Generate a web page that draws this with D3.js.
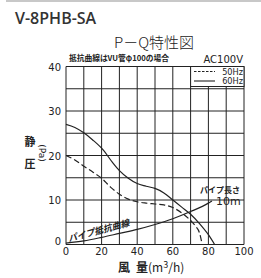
<!DOCTYPE html>
<html><head><meta charset="utf-8">
<script src="https://cdn.jsdelivr.net/npm/d3@7"></script>
<style>body{margin:0;background:#fff}svg{display:block}</style>
</head><body>
<script>
const q60 = [0, 5, 10, 15, 21, 26, 30, 35, 40, 45, 50, 55, 60, 65, 70, 75, 80, 83.5];
const p60 = [27, 26.3, 25.1, 23.5, 21.2, 18.5, 16.6, 14.9, 13.7, 13.1, 12.6, 11.6, 10, 8.4, 6.8, 4.7, 2.2, 0];
const q50 = [0, 5, 10, 15, 20, 25, 30, 35, 40, 45, 50, 55, 60, 65, 70, 73, 75, 76.5];
const p50 = [20, 19.0, 17.6, 16.3, 14.9, 12.9, 11.3, 10.2, 9.6, 9.3, 9.1, 8.9, 8.3, 7.1, 5.4, 4.0, 2.6, 0];
const qPipe = [0, 10, 20, 30, 40, 50, 60, 70, 80, 82];
const pPipe = [0.3, 0.8, 1.6, 2.5, 3.4, 4.5, 5.8, 7.4, 9.3, 9.8];
const xTicks = [0, 20, 40, 60, 80, 100];
const yTicks = [0, 10, 20, 30, 40];
const xGrid = d3.range(0, 101, 10);
const yGrid = d3.range(0, 41, 5);
const legendItems = [{label: "50Hz", dash: "2.5,1.5"}, {label: "60Hz", dash: null}];

const W = 261, H = 278;
const svg = d3.select("body").append("svg").attr("width", W).attr("height", H);
const x = d3.scaleLinear().domain([0, 100]).range([66, 244]);
const y = d3.scaleLinear().domain([0, 40]).range([244.5, 66.5]);
const ink = "#222";

svg.append("line").attr("x1", 6).attr("x2", W).attr("y1", 1).attr("y2", 1)
  .attr("stroke", "#c8c8c8").attr("stroke-width", 2);

svg.append("text").attr("x", 15).attr("y", 24).text("V-8PHB-SA")
  .attr("font-family", "Open Sans").attr("font-weight", 600).attr("font-size", 16).attr("fill", "#333");

svg.append("text").attr("x", 154).attr("y", 48).attr("text-anchor", "middle").text("P－Q特性図")
  .attr("font-family", "Noto Sans CJK JP").attr("font-weight", 300).attr("font-size", 15).attr("fill", ink);

svg.append("text").attr("x", 69).attr("y", 61).text("抵抗曲線はVU管φ100の場合")
  .attr("font-family", "Noto Sans CJK JP").attr("font-weight", 700).attr("font-size", 7.5)
  .attr("textLength", 100).attr("lengthAdjust", "spacingAndGlyphs").attr("fill", ink);
svg.append("text").attr("x", 243).attr("y", 63).attr("text-anchor", "end").text("AC100V")
  .attr("font-family", "DejaVu Sans").attr("font-size", 10).attr("fill", ink);

// grid
const g = svg.append("g").attr("stroke", ink).attr("stroke-width", 1);
g.selectAll(".vx").data(xGrid).join("line")
  .attr("x1", d => x(d)).attr("x2", d => x(d)).attr("y1", y(40)).attr("y2", y(0));
g.selectAll(".hy").data(yGrid).join("line")
  .attr("y1", d => y(d)).attr("y2", d => y(d)).attr("x1", x(0)).attr("x2", x(100));

// legend box
const lb = svg.append("g");
lb.append("rect").attr("x", x(70)).attr("y", y(40)).attr("width", x(100) - x(70)).attr("height", 20)
  .attr("fill", "#fff").attr("stroke", ink).attr("stroke-width", 1);
legendItems.forEach((it, i) => {
  const yy = y(40) + 5 + i * 9.5;
  lb.append("line").attr("x1", 194).attr("x2", 215).attr("y1", yy).attr("y2", yy)
    .attr("stroke", ink).attr("stroke-width", 1.1).attr("stroke-dasharray", it.dash);
  lb.append("text").attr("x", 243).attr("y", yy + 3.2).attr("text-anchor", "end").text(it.label)
    .attr("font-family", "DejaVu Sans").attr("font-size", 8.2).attr("fill", ink);
});

// tick labels
svg.selectAll(".yt").data(yTicks).join("text")
  .attr("x", 61).attr("y", d => d === 0 ? y(d) - 0 : y(d) + 4).attr("text-anchor", "end")
  .text(d => d).attr("font-family", "DejaVu Sans").attr("font-size", 10).attr("fill", ink);
svg.selectAll(".xt").data(xTicks).join("text")
  .attr("x", d => x(d)).attr("y", 255).attr("text-anchor", "middle")
  .text(d => d).attr("font-family", "DejaVu Sans").attr("font-size", 10).attr("fill", ink);

// curves
const line = d3.line().x(d => x(d[0])).y(d => y(d[1])).curve(d3.curveMonotoneX);
svg.append("path").attr("d", line(d3.zip(q60, p60))).attr("fill", "none").attr("stroke", ink).attr("stroke-width", 1.2);
svg.append("path").attr("d", line(d3.zip(q50, p50))).attr("fill", "none").attr("stroke", ink).attr("stroke-width", 1.2).attr("stroke-dasharray", "6,3");
svg.append("path").attr("d", line(d3.zip(qPipe, pPipe))).attr("fill", "none").attr("stroke", ink).attr("stroke-width", 1.2);

// pipe labels
svg.append("text").attr("transform", "translate(69,242) rotate(-15)").text("パイプ抵抗曲線")
  .attr("font-family", "Noto Sans CJK JP").attr("font-weight", 700).attr("font-style", "italic").attr("font-size", 9).attr("fill", ink);
svg.append("text").attr("x", 200).attr("y", 193).text("パイプ長さ")
  .attr("font-family", "Noto Sans CJK JP").attr("font-weight", 700).attr("font-size", 8).attr("fill", ink);
svg.append("text").attr("x", 216).attr("y", 205).text("10m")
  .attr("font-family", "DejaVu Sans").attr("font-size", 11).attr("fill", ink);

// axis titles
svg.append("text").attr("x", 30).attr("y", 146).attr("text-anchor", "middle").text("静")
  .attr("font-family", "Noto Sans CJK JP").attr("font-weight", 700).attr("font-size", 11).attr("fill", ink);
svg.append("text").attr("x", 30).attr("y", 168).attr("text-anchor", "middle").text("圧")
  .attr("font-family", "Noto Sans CJK JP").attr("font-weight", 700).attr("font-size", 11).attr("fill", ink);
svg.append("text").attr("transform", "translate(39,153) rotate(90)").attr("text-anchor", "middle").text("(Pa)")
  .attr("font-family", "DejaVu Sans").attr("font-size", 9).attr("fill", ink);

const xt = svg.append("text").attr("x", 118).attr("y", 272)
  .attr("font-family", "Noto Sans CJK JP").attr("font-size", 12).attr("fill", ink);
xt.append("tspan").text("風").attr("font-weight", 700);
xt.append("tspan").attr("dx", 6).text("量").attr("font-weight", 700);
xt.append("tspan").text("(m");
xt.append("tspan").attr("dy", -4).attr("font-size", 9).text("3");
xt.append("tspan").attr("dy", 4).text("/h)");
</script>
</body></html>
